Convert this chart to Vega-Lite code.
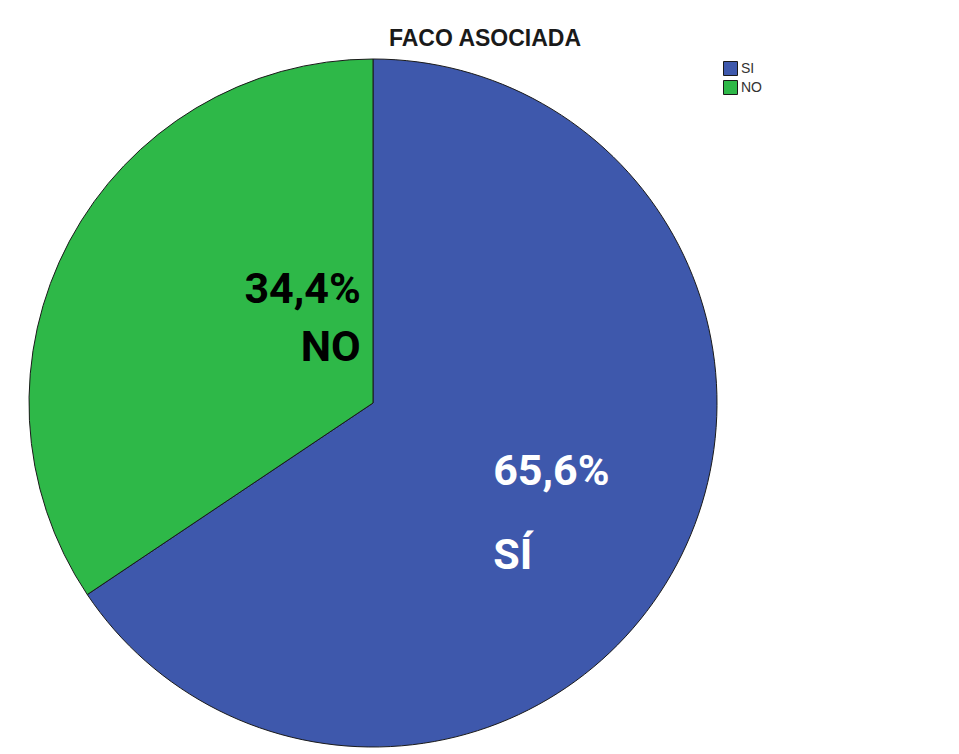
{
  "$schema": "https://vega.github.io/schema/vega-lite/v6.json",
  "width": 688,
  "height": 688,
  "autosize": {"type": "none"},
  "padding": {"left": 29, "top": 59, "right": 242, "bottom": 7},
  "background": "white",
  "config": {"view": {"stroke": null}},
  "title": {
    "text": "FACO ASOCIADA",
    "font": "Liberation Sans",
    "fontSize": 23,
    "fontWeight": "bold",
    "color": "#1a1a1a",
    "anchor": "middle",
    "dx": 112,
    "offset": -12,
    "baseline": "alphabetic"
  },
  "data": {
    "values": [
      {"categoria": "SI", "porcentaje": 65.6, "etiqueta": "65,6%\nSÍ"},
      {"categoria": "NO", "porcentaje": 34.4, "etiqueta": "34,4%\nNO"}
    ]
  },
  "encoding": {
    "theta": {"field": "porcentaje", "type": "quantitative", "stack": true},
    "order": {"field": "categoria", "sort": "descending"}
  },
  "layer": [
    {
      "mark": {"type": "arc", "stroke": "#1a1a1a", "strokeWidth": 1},
      "encoding": {
        "color": {
          "field": "categoria",
          "type": "nominal",
          "scale": {"domain": ["SI", "NO"], "range": ["#3E58AC", "#2EB848"]},
          "legend": {
            "orient": "none",
            "legendX": 694,
            "legendY": 2,
            "title": null,
            "symbolType": "square",
            "symbolSize": 196,
            "symbolStrokeColor": "#1a1a1a",
            "symbolStrokeWidth": 1,
            "labelFont": "Liberation Sans",
            "labelFontSize": 14,
            "labelColor": "#333333",
            "rowPadding": 0,
            "padding": 0,
            "labelOffset": 3
          }
        }
      }
    },
    {
      "mark": {
        "type": "text",
        "radius": 160,
        "align": "left",
        "baseline": "alphabetic",
        "dx": -21,
        "dy": 7,
        "font": "Roboto",
        "fontSize": 43,
        "fontWeight": "bold",
        "lineHeight": 84,
        "lineBreak": "\n",
        "color": "white"
      },
      "encoding": {
        "text": {
          "condition": {"test": "datum.categoria === 'SI'", "field": "etiqueta", "type": "nominal"},
          "value": ""
        }
      }
    },
    {
      "mark": {
        "type": "text",
        "radius": 100,
        "align": "right",
        "baseline": "alphabetic",
        "dx": 76,
        "dy": -53,
        "font": "Roboto",
        "fontSize": 43,
        "fontWeight": "bold",
        "lineHeight": 58,
        "lineBreak": "\n",
        "color": "black"
      },
      "encoding": {
        "text": {
          "condition": {"test": "datum.categoria === 'NO'", "field": "etiqueta", "type": "nominal"},
          "value": ""
        }
      }
    }
  ]
}
